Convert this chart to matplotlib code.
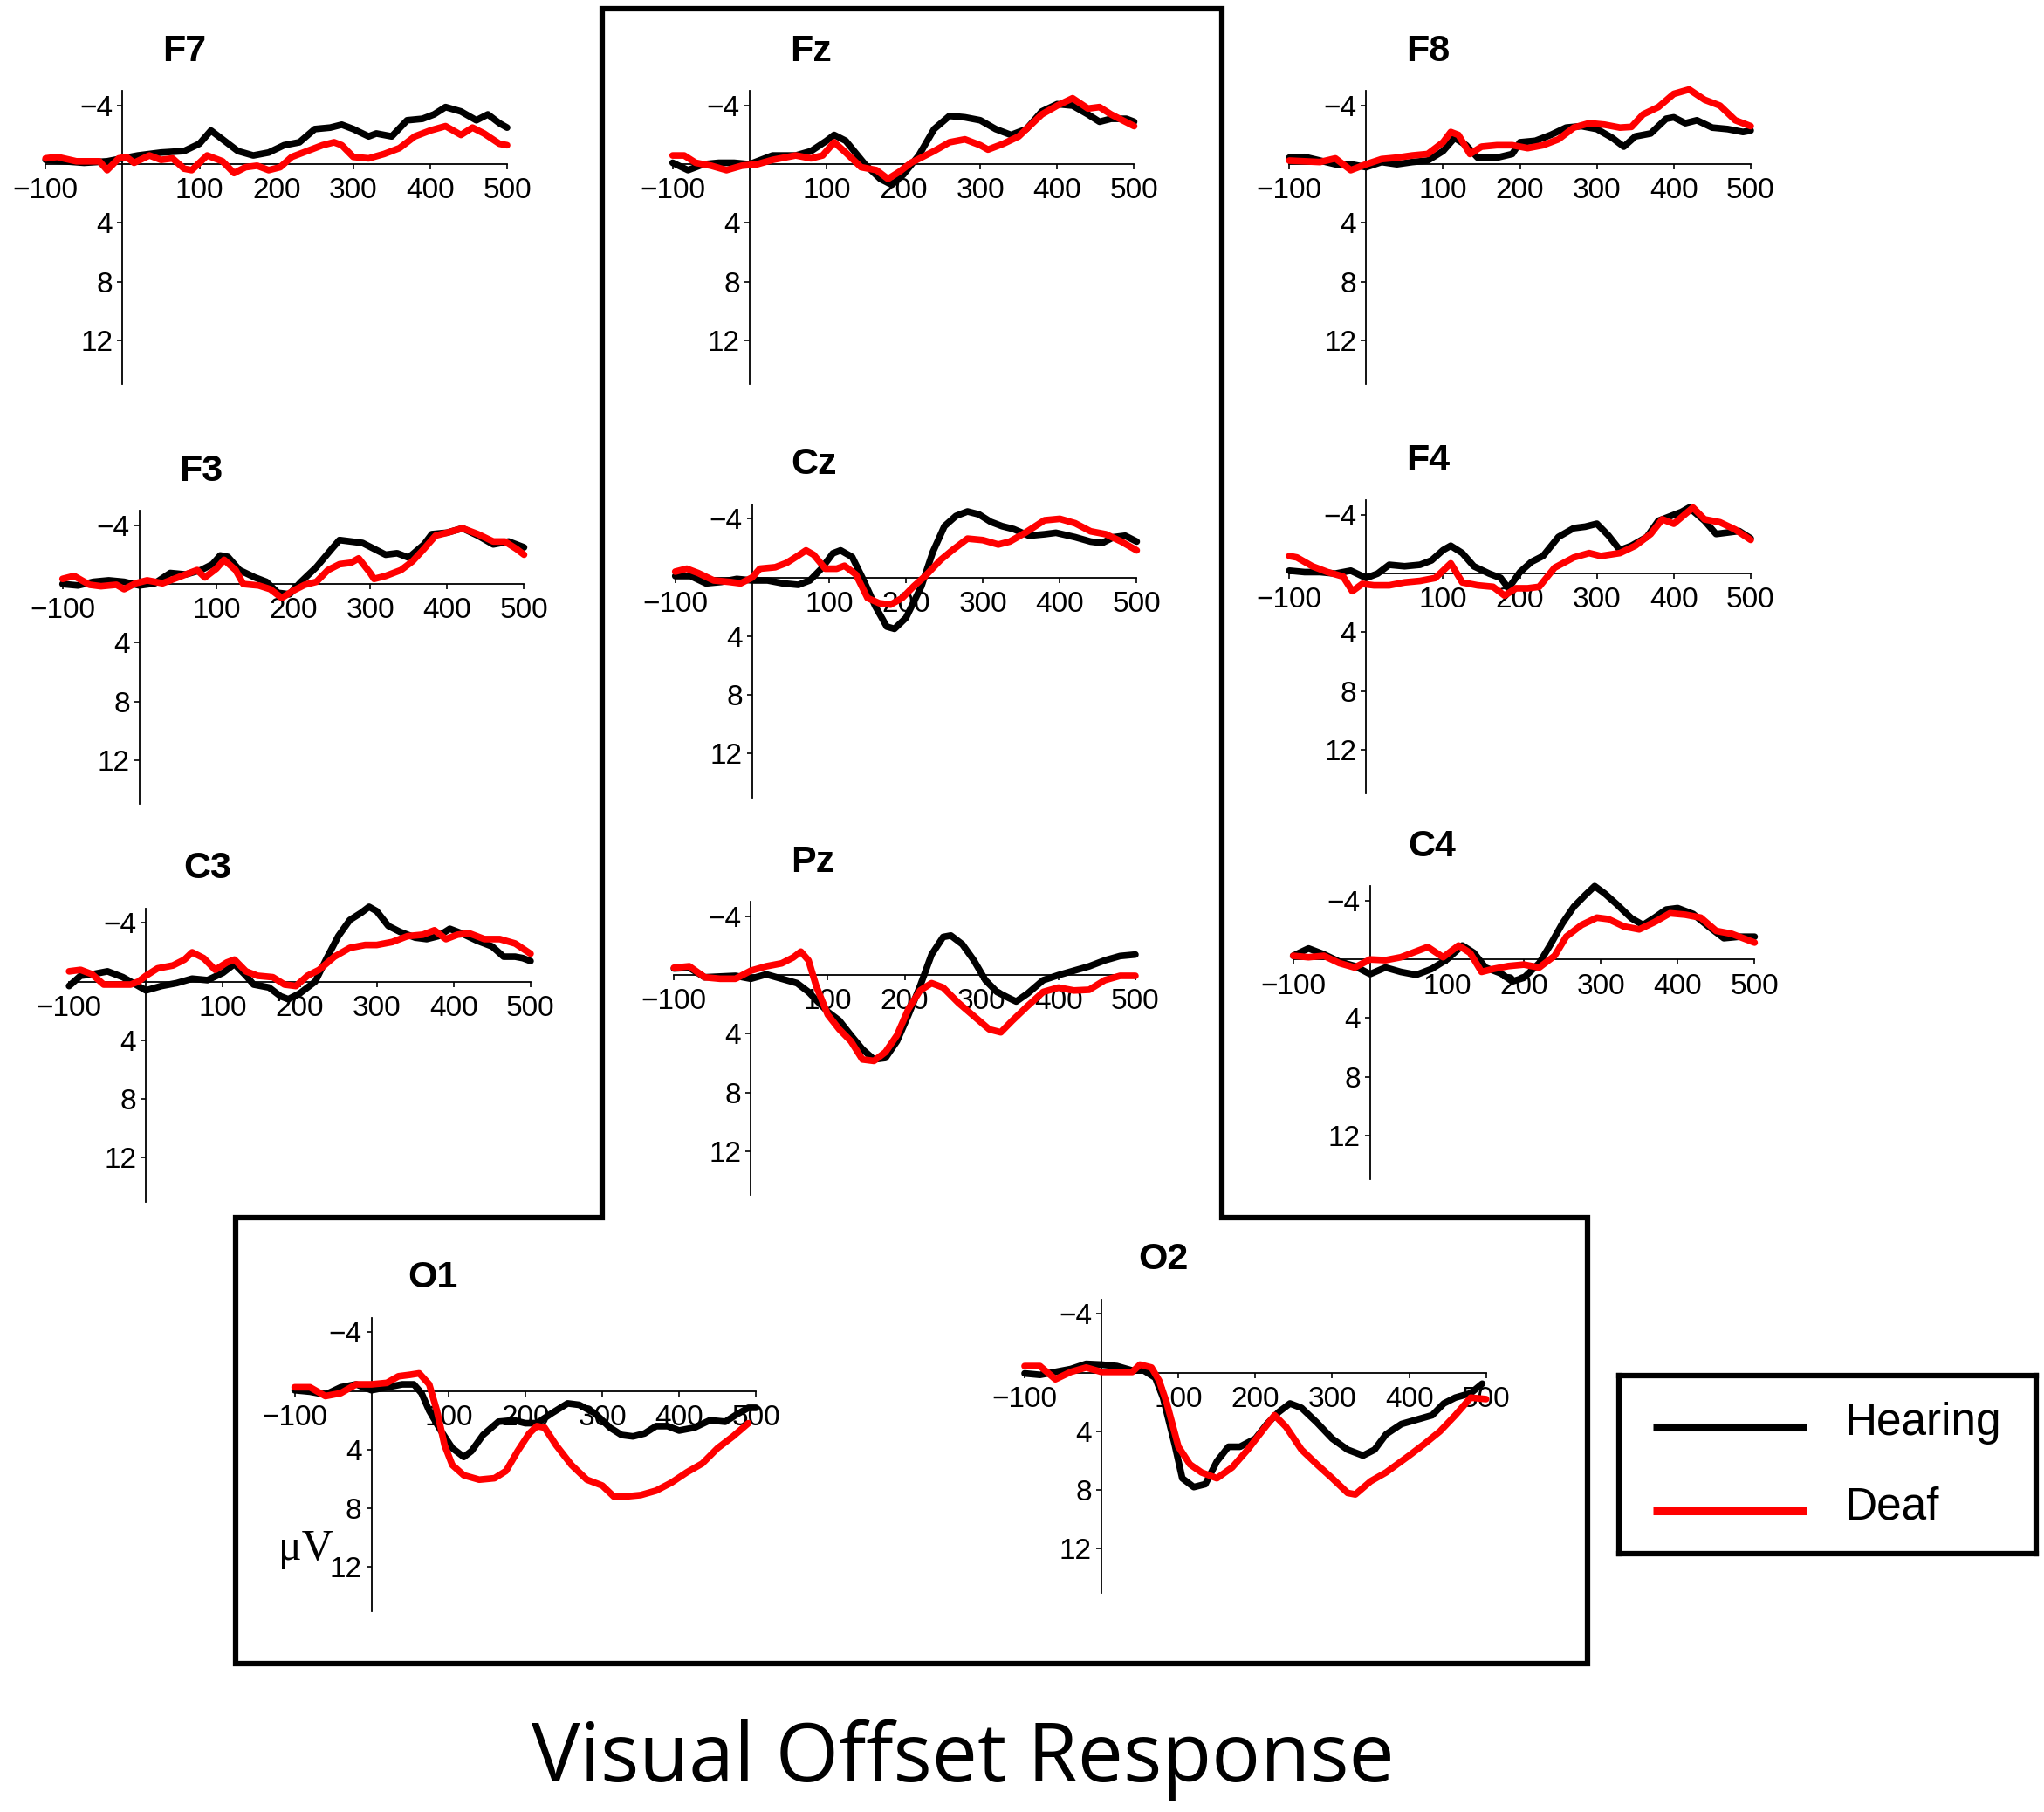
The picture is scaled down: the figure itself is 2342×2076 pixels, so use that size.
import matplotlib
matplotlib.use("Agg")
import matplotlib.pyplot as plt
from matplotlib.patches import Polygon

# ---- waveform readings (ms, microvolts; negative is plotted upward) ----
F7_T_H = [-100, -50, -20, 0, 20, 50, 80, 100, 115, 130, 150, 170, 190, 210, 230, 250, 270, 285, 300, 320,
          330, 350, 370, 390, 405, 420, 440, 460, 475, 490, 500]
F7_H = [-0.3, -0.1, -0.2, -0.4, -0.6, -0.8, -0.9, -1.4, -2.3, -1.7, -0.9, -0.6, -0.8, -1.3, -1.5, -2.4, -2.5, -2.7, -2.4, -1.9,
        -2.1, -1.9, -3.0, -3.1, -3.4, -3.9, -3.6, -3.0, -3.4, -2.8, -2.5]
F7_T_D = [-100, -85, -60, -30, -20, -5, 5, 15, 35, 50, 65, 80, 90, 110, 130, 145, 160, 175, 190, 205,
          220, 240, 260, 275, 285, 300, 320, 340, 360, 380, 400, 420, 440, 455, 470, 490, 500]
F7_D = [-0.4, -0.5, -0.2, -0.2, 0.4, -0.4, -0.5, -0.1, -0.6, -0.3, -0.4, 0.3, 0.4, -0.6, -0.2, 0.6, 0.2, 0.1, 0.4, 0.2,
        -0.5, -0.9, -1.3, -1.5, -1.3, -0.5, -0.4, -0.7, -1.1, -1.9, -2.3, -2.6, -2.0, -2.5, -2.1, -1.4, -1.3]

FZ_T_H = [-100, -80, -60, -40, -20, 0, 30, 60, 80, 100, 110, 125, 150, 170, 185, 200, 220, 240, 260, 280,
          300, 320, 340, 360, 380, 400, 420, 440, 455, 470, 490, 500]
FZ_H = [-0.1, 0.4, 0.0, -0.1, -0.1, 0.0, -0.6, -0.6, -0.9, -1.6, -2.0, -1.6, 0.0, 1.0, 1.4, 0.7, -0.6, -2.4, -3.3, -3.2,
        -3.0, -2.4, -2.0, -2.4, -3.6, -4.1, -4.0, -3.4, -2.9, -3.1, -3.1, -2.9]
FZ_T_D = [-100, -85, -70, -50, -30, -10, 10, 30, 60, 80, 95, 110, 125, 145, 165, 180, 195, 210, 240, 260,
          280, 300, 310, 330, 350, 380, 400, 420, 440, 455, 470, 500]
FZ_D = [-0.6, -0.6, -0.1, 0.1, 0.4, 0.1, 0.0, -0.3, -0.6, -0.4, -0.6, -1.5, -0.8, 0.2, 0.4, 1.0, 0.5, -0.1, -0.9, -1.5,
        -1.7, -1.3, -1.0, -1.4, -1.9, -3.4, -4.0, -4.5, -3.8, -3.9, -3.4, -2.6]

F8_T_H = [-100, -80, -60, -40, -20, 0, 20, 40, 60, 80, 100, 115, 130, 145, 170, 190, 200, 220, 240, 260,
          280, 300, 320, 335, 350, 370, 390, 400, 415, 430, 450, 470, 490, 500]
F8_H = [-0.45, -0.5, -0.25, 0.0, 0.0, 0.2, -0.15, 0.0, -0.15, -0.25, -0.9, -1.8, -1.3, -0.45, -0.45, -0.7, -1.5, -1.6, -2.0, -2.5,
        -2.6, -2.4, -1.8, -1.2, -1.9, -2.1, -3.1, -3.2, -2.8, -3.0, -2.5, -2.4, -2.2, -2.3]
F8_T_D = [-100, -60, -40, -20, 0, 20, 40, 60, 80, 100, 110, 120, 135, 150, 170, 190, 210, 230, 250, 270,
          290, 310, 330, 345, 360, 380, 400, 420, 440, 460, 480, 500]
F8_D = [-0.25, -0.15, -0.4, 0.4, 0.0, -0.35, -0.45, -0.6, -0.7, -1.5, -2.2, -2.0, -0.7, -1.2, -1.3, -1.3, -1.1, -1.3, -1.7, -2.5,
        -2.8, -2.7, -2.5, -2.55, -3.4, -3.9, -4.8, -5.1, -4.4, -4.0, -3.0, -2.6]

F3_T_H = [-100, -80, -60, -40, -20, 0, 20, 40, 60, 80, 95, 105, 115, 130, 150, 165, 180, 195, 210, 230,
          250, 260, 275, 290, 305, 320, 335, 350, 370, 380, 400, 420, 440, 460, 480, 500]
F3_H = [0.0, 0.1, -0.15, -0.25, -0.15, 0.1, -0.05, -0.75, -0.65, -0.95, -1.35, -1.95, -1.85, -0.95, -0.45, -0.15, 0.6, 0.7, -0.15, -1.15,
        -2.4, -3.0, -2.9, -2.8, -2.4, -2.0, -2.1, -1.8, -2.7, -3.4, -3.5, -3.8, -3.3, -2.7, -2.9, -2.5]
F3_T_D = [-100, -85, -65, -50, -30, -20, -5, 10, 30, 50, 65, 75, 85, 100, 110, 125, 135, 155, 170, 185,
          200, 215, 230, 245, 260, 275, 285, 300, 305, 320, 340, 355, 370, 385, 400, 420, 440, 460, 475, 490, 500]
F3_D = [-0.35, -0.55, 0.05, 0.15, 0.05, 0.35, -0.05, -0.25, -0.05, -0.45, -0.75, -0.95, -0.45, -1.05, -1.65, -0.95, 0.0, 0.1, 0.35, 0.95,
        0.45, 0.05, -0.15, -0.95, -1.35, -1.45, -1.75, -0.75, -0.35, -0.55, -0.95, -1.55, -2.4, -3.3, -3.5, -3.8, -3.4, -2.9, -2.9, -2.4, -2.0]

CZ_T_H = [-100, -80, -60, -40, -20, 0, 20, 40, 60, 75, 90, 105, 115, 130, 145, 160, 175, 185, 200, 220,
          235, 250, 265, 280, 295, 310, 325, 340, 360, 380, 395, 420, 440, 455, 470, 485, 500]
CZ_H = [-0.1, -0.1, 0.4, 0.3, 0.1, 0.2, 0.2, 0.4, 0.5, 0.2, -0.6, -1.65, -1.85, -1.4, 0.2, 1.95, 3.35, 3.5, 2.75, 0.6,
        -1.75, -3.5, -4.2, -4.5, -4.3, -3.8, -3.5, -3.3, -2.85, -2.95, -3.05, -2.75, -2.45, -2.35, -2.75, -2.85, -2.45]
CZ_T_D = [-100, -85, -70, -50, -30, -15, 0, 10, 30, 45, 60, 70, 80, 95, 110, 120, 135, 150, 165, 180,
          195, 210, 225, 245, 260, 280, 300, 320, 335, 355, 380, 400, 420, 440, 460, 480, 500]
CZ_D = [-0.4, -0.6, -0.3, 0.2, 0.3, 0.4, 0.0, -0.6, -0.7, -1.0, -1.5, -1.85, -1.55, -0.6, -0.6, -0.8, -0.2, 1.4, 1.75, 1.85,
        1.4, 0.6, -0.1, -1.2, -1.85, -2.65, -2.55, -2.25, -2.45, -3.05, -3.9, -4.0, -3.7, -3.15, -2.95, -2.45, -1.85]

F4_T_H = [-100, -80, -60, -40, -20, 0, 15, 30, 50, 70, 85, 100, 110, 125, 140, 160, 175, 185, 200, 215,
          230, 250, 270, 285, 300, 315, 330, 345, 365, 380, 395, 410, 420, 440, 455, 470, 485, 500]
F4_H = [-0.2, -0.1, -0.1, 0.0, -0.2, 0.3, 0.0, -0.6, -0.5, -0.6, -0.9, -1.6, -1.9, -1.4, -0.5, 0.0, 0.3, 1.0, -0.1, -0.8,
        -1.2, -2.5, -3.1, -3.2, -3.4, -2.6, -1.6, -1.9, -2.5, -3.6, -3.9, -4.2, -4.5, -3.6, -2.7, -2.8, -2.9, -2.4]
F4_T_D = [-100, -90, -70, -50, -30, -18, -5, 10, 30, 50, 70, 90, 110, 125, 145, 165, 180, 195, 210, 225,
          245, 270, 290, 305, 330, 350, 370, 385, 400, 425, 440, 460, 480, 500]
F4_D = [-1.2, -1.1, -0.5, -0.1, 0.2, 1.2, 0.7, 0.8, 0.8, 0.6, 0.5, 0.3, -0.7, 0.6, 0.8, 0.9, 1.5, 1.0, 1.0, 0.9,
        -0.4, -1.1, -1.4, -1.2, -1.4, -1.9, -2.7, -3.7, -3.4, -4.5, -3.7, -3.5, -3.0, -2.3]

C3_T_H = [-100, -85, -70, -50, -30, -10, 0, 20, 40, 60, 80, 100, 115, 130, 140, 160, 175, 185, 200, 220,
          235, 250, 265, 280, 290, 300, 315, 330, 350, 365, 380, 395, 410, 430, 450, 465, 480, 490, 500]
C3_H = [0.3, -0.4, -0.5, -0.7, -0.3, 0.3, 0.6, 0.3, 0.1, -0.2, -0.1, -0.6, -1.2, -0.4, 0.2, 0.4, 1.0, 1.2, 0.8, 0.0,
        -1.6, -3.1, -4.2, -4.7, -5.1, -4.8, -3.8, -3.4, -3.0, -2.9, -3.1, -3.6, -3.3, -2.8, -2.4, -1.7, -1.7, -1.6, -1.4]
C3_T_D = [-100, -85, -70, -55, -40, -20, -10, 0, 15, 35, 50, 60, 75, 90, 105, 115, 130, 145, 165, 180,
          195, 210, 225, 245, 265, 285, 300, 320, 340, 360, 375, 390, 405, 420, 440, 460, 480, 500]
C3_D = [-0.7, -0.8, -0.5, 0.2, 0.2, 0.2, 0.0, -0.4, -0.9, -1.1, -1.5, -2.0, -1.6, -0.8, -1.3, -1.5, -0.7, -0.4, -0.3, 0.2,
        0.3, -0.4, -0.8, -1.7, -2.3, -2.5, -2.5, -2.7, -3.1, -3.2, -3.5, -2.9, -3.2, -3.3, -2.9, -2.9, -2.6, -1.9]

PZ_T_H = [-100, -80, -60, -40, -20, 0, 20, 40, 60, 75, 85, 100, 115, 130, 145, 160, 175, 190, 205, 220,
          235, 250, 260, 275, 290, 305, 320, 335, 345, 360, 380, 400, 420, 440, 460, 480, 500]
PZ_H = [-0.45, -0.5, 0.15, 0.1, 0.05, 0.25, -0.05, 0.25, 0.55, 1.15, 1.7, 2.5, 3.1, 4.1, 5.05, 5.75, 5.65, 4.5, 2.7, 0.75,
        -1.4, -2.6, -2.7, -2.1, -1.0, 0.35, 1.15, 1.55, 1.8, 1.25, 0.35, 0.0, -0.3, -0.6, -1.0, -1.3, -1.4]
PZ_T_D = [-100, -80, -60, -40, -20, 0, 20, 40, 55, 65, 75, 85, 100, 115, 130, 145, 160, 175, 190, 205,
          220, 235, 250, 270, 290, 310, 325, 340, 360, 380, 400, 420, 440, 460, 480, 500]
PZ_D = [-0.5, -0.6, 0.15, 0.25, 0.25, -0.3, -0.6, -0.8, -1.2, -1.6, -1.0, 0.75, 2.7, 3.7, 4.5, 5.75, 5.85, 5.25, 4.1, 2.3,
        1.05, 0.55, 0.85, 1.9, 2.8, 3.7, 3.9, 3.1, 2.1, 1.15, 0.85, 1.05, 1.0, 0.35, 0.05, 0.05]

C4_T_H = [-100, -80, -60, -40, -20, 0, 20, 40, 60, 80, 100, 120, 135, 150, 170, 185, 200, 220, 235, 250,
          265, 280, 292, 305, 320, 340, 355, 370, 385, 400, 420, 440, 460, 480, 500]
C4_H = [-0.25, -0.75, -0.35, 0.15, 0.45, 1.0, 0.55, 0.85, 1.05, 0.65, 0.0, -0.95, -0.45, 0.55, 0.95, 1.5, 1.25, 0.25, -1.05, -2.45,
        -3.6, -4.4, -5.0, -4.5, -3.8, -2.8, -2.35, -2.85, -3.4, -3.5, -3.1, -2.25, -1.45, -1.55, -1.55]
C4_T_D = [-100, -80, -60, -40, -20, 0, 20, 40, 60, 75, 95, 115, 130, 145, 160, 180, 200, 220, 240, 255,
          275, 295, 310, 330, 350, 370, 390, 410, 430, 450, 470, 490, 500]
C4_D = [-0.25, -0.15, -0.25, 0.25, 0.55, 0.0, 0.05, -0.15, -0.55, -0.85, -0.15, -0.95, -0.45, 0.85, 0.65, 0.45, 0.35, 0.55, -0.25, -1.55,
        -2.35, -2.85, -2.75, -2.25, -2.05, -2.55, -3.15, -3.05, -2.85, -1.95, -1.75, -1.35, -1.15]

O1_T_H = [-100, -80, -60, -40, -20, 0, 20, 40, 55, 65, 75, 90, 105, 120, 130, 145, 165, 185, 200, 215,
          235, 255, 270, 290, 310, 325, 340, 355, 370, 385, 400, 420, 440, 460, 475, 490, 500]
O1_H = [-0.05, 0.05, 0.25, -0.25, -0.45, -0.05, -0.25, -0.45, -0.45, 0.15, 1.35, 2.7, 3.9, 4.5, 4.1, 3.0, 2.1, 2.0, 2.2, 2.2,
        1.5, 0.85, 0.95, 1.5, 2.5, 3.0, 3.1, 2.9, 2.4, 2.4, 2.7, 2.5, 2.0, 2.1, 1.6, 1.15, 1.15]
O1_T_D = [-100, -80, -60, -40, -20, 0, 20, 35, 50, 62, 75, 85, 95, 105, 120, 140, 160, 175, 190, 205,
          215, 225, 240, 260, 280, 300, 315, 330, 350, 370, 390, 410, 430, 450, 470, 490]
O1_D = [-0.25, -0.25, 0.35, 0.15, -0.45, -0.45, -0.55, -1.0, -1.1, -1.2, -0.45, 1.35, 3.7, 5.05, 5.75, 6.05, 5.95, 5.45, 4.1, 2.9,
        2.4, 2.5, 3.7, 5.05, 6.05, 6.45, 7.2, 7.2, 7.1, 6.8, 6.25, 5.55, 4.95, 3.9, 3.1, 2.2]

O2_T_H = [-100, -80, -60, -40, -20, 0, 20, 40, 55, 70, 80, 95, 105, 120, 135, 150, 165, 180, 200, 215,
          230, 245, 260, 280, 300, 320, 340, 355, 370, 390, 410, 430, 445, 460, 480, 495]
O2_H = [0.05, 0.15, -0.05, -0.25, -0.6, -0.55, -0.45, -0.15, -0.15, 0.35, 1.7, 4.85, 7.2, 7.8, 7.6, 6.05, 5.05, 5.05, 4.5, 3.5,
        2.7, 2.1, 2.4, 3.4, 4.5, 5.25, 5.65, 5.25, 4.2, 3.5, 3.2, 2.9, 2.1, 1.7, 1.4, 0.75]
O2_T_D = [-100, -80, -60, -40, -20, 0, 20, 40, 50, 65, 75, 85, 100, 115, 130, 150, 170, 190, 210, 225,
          240, 260, 280, 300, 320, 330, 350, 370, 400, 420, 440, 460, 480, 500]
O2_D = [-0.45, -0.45, 0.45, -0.05, -0.35, -0.05, -0.05, -0.05, -0.55, -0.35, 0.55, 2.1, 5.05, 6.25, 6.8, 7.2, 6.45, 5.25, 3.9, 2.9,
        3.7, 5.25, 6.25, 7.2, 8.2, 8.3, 7.4, 6.8, 5.65, 4.85, 4.0, 2.9, 1.7, 1.8]

TRACES = {
    "F7": (F7_T_H, F7_H, F7_T_D, F7_D),
    "Fz": (FZ_T_H, FZ_H, FZ_T_D, FZ_D),
    "F8": (F8_T_H, F8_H, F8_T_D, F8_D),
    "F3": (F3_T_H, F3_H, F3_T_D, F3_D),
    "Cz": (CZ_T_H, CZ_H, CZ_T_D, CZ_D),
    "F4": (F4_T_H, F4_H, F4_T_D, F4_D),
    "C3": (C3_T_H, C3_H, C3_T_D, C3_D),
    "Pz": (PZ_T_H, PZ_H, PZ_T_D, PZ_D),
    "C4": (C4_T_H, C4_H, C4_T_D, C4_D),
    "O1": (O1_T_H, O1_H, O1_T_D, O1_D),
    "O2": (O2_T_H, O2_H, O2_T_D, O2_D),
}

X_TICKS = [-100, 100, 200, 300, 400, 500]
X_LABELS = ["\u2212100", "100", "200", "300", "400", "500"]
Y_TICKS = [-4, 4, 8, 12]
Y_LABELS = ["\u22124", "4", "8", "12"]
GROUPS = ["Hearing", "Deaf"]
COLORS = ["black", "#ff0000"]

# ---- layout, in pixels of a 1568 x 1390 reference grid ----
W, H = 1568.0, 1390.0
MS_PX = 0.59      # px per ms
UV_PX = 11.25     # px per microvolt
# position of the (0 ms, 0 uV) origin of each panel
ORIGIN = {
    "F7": (94, 126), "Fz": (575, 126), "F8": (1048, 126),
    "F3": (107, 448), "Cz": (577, 443), "F4": (1048, 440),
    "C3": (112, 753), "Pz": (576, 748), "C4": (1051, 736),
    "O1": (285, 1067), "O2": (845, 1053),
}

TICK_FONT = ["Liberation Sans Narrow", "Liberation Sans", "DejaVu Sans"]
SANS = ["Liberation Sans", "DejaVu Sans"]

fig = plt.figure(figsize=(23.42, 20.76), dpi=100)
fig.patch.set_facecolor("white")


def frac(x, y):
    return x / W, 1 - y / H


def draw_panel(name):
    zx, zy = ORIGIN[name]
    left = zx - 100 * MS_PX
    right = zx + 500 * MS_PX
    top = zy - 5 * UV_PX
    bottom = zy + 15 * UV_PX
    ax = fig.add_axes([left / W, 1 - bottom / H, (right - left) / W, (bottom - top) / H])
    ax.patch.set_visible(False)

    t_h, v_h, t_d, v_d = TRACES[name]
    ax.plot(t_h, v_h, color=COLORS[0], lw=5.5, solid_joinstyle="round",
            solid_capstyle="round", clip_on=False, zorder=3)
    ax.plot(t_d, v_d, color=COLORS[1], lw=5.5, solid_joinstyle="round",
            solid_capstyle="round", clip_on=False, zorder=4)

    ax.set_xlim(-100, 500)
    ax.set_ylim(15, -5)

    for s in ["top", "right"]:
        ax.spines[s].set_visible(False)
    ax.spines["bottom"].set_position(("data", 0))
    ax.spines["left"].set_position(("data", 0))
    for s in ["bottom", "left"]:
        ax.spines[s].set_linewidth(1.3)
        ax.spines[s].set_zorder(2)

    ax.set_xticks(X_TICKS)
    ax.set_xticklabels(X_LABELS)
    ax.set_yticks(Y_TICKS)
    ax.set_yticklabels(Y_LABELS)
    ax.tick_params(axis="x", direction="out", length=4, width=1.2, pad=7)
    ax.tick_params(axis="y", direction="out", length=4, width=1.2, pad=4)
    for lab in ax.get_xticklabels() + ax.get_yticklabels():
        lab.set_family(TICK_FONT)
        lab.set_fontsize(24)

    ax.text(0.3, 1.135, name, transform=ax.transAxes, ha="center", va="center",
            fontsize=31, fontweight="bold", family=SANS)
    return ax


axes = {name: draw_panel(name) for name in ORIGIN}

# unit label on O1
axes["O1"].text(-85, 10.8, "\u03bcV", ha="center", va="center", fontsize=36,
                family=["Liberation Serif", "DejaVu Serif"])

# ---- outline around the central/occipital group ----
frame = fig.add_axes([0, 0, 1, 1], zorder=-1)
frame.set_xlim(0, W)
frame.set_ylim(H, 0)
frame.axis("off")
outline = [(462, 7), (937, 7), (937, 934), (1218, 934), (1218, 1276),
           (181, 1276), (181, 934), (462, 934)]
frame.add_patch(Polygon(outline, closed=True, fill=False, edgecolor="black",
                        linewidth=4.5, joinstyle="miter"))

# ---- legend box ----
lx0, ly0, lx1, ly1 = 1242, 1055, 1562, 1192
leg = fig.add_axes([lx0 / W, 1 - ly1 / H, (lx1 - lx0) / W, (ly1 - ly0) / H])
leg.set_xlim(0, lx1 - lx0)
leg.set_ylim(ly1 - ly0, 0)
leg.set_xticks([])
leg.set_yticks([])
for s in leg.spines.values():
    s.set_linewidth(4.5)
for i, (grp, col) in enumerate(zip(GROUPS, COLORS)):
    yy = 40 + 64 * i
    leg.plot([26, 144], [yy, yy], color=col, lw=6.5, solid_capstyle="butt")
    leg.text(173, yy - 3, grp, ha="left", va="center", fontsize=37, family=SANS)

# ---- figure title ----
tx, ty = frac(739, 1350)
fig.text(tx, ty, "Visual Offset Response", ha="center", va="center",
         fontsize=67, family=["Open Sans", "DejaVu Sans"])

fig.savefig("out.png", dpi=100, facecolor="white")
